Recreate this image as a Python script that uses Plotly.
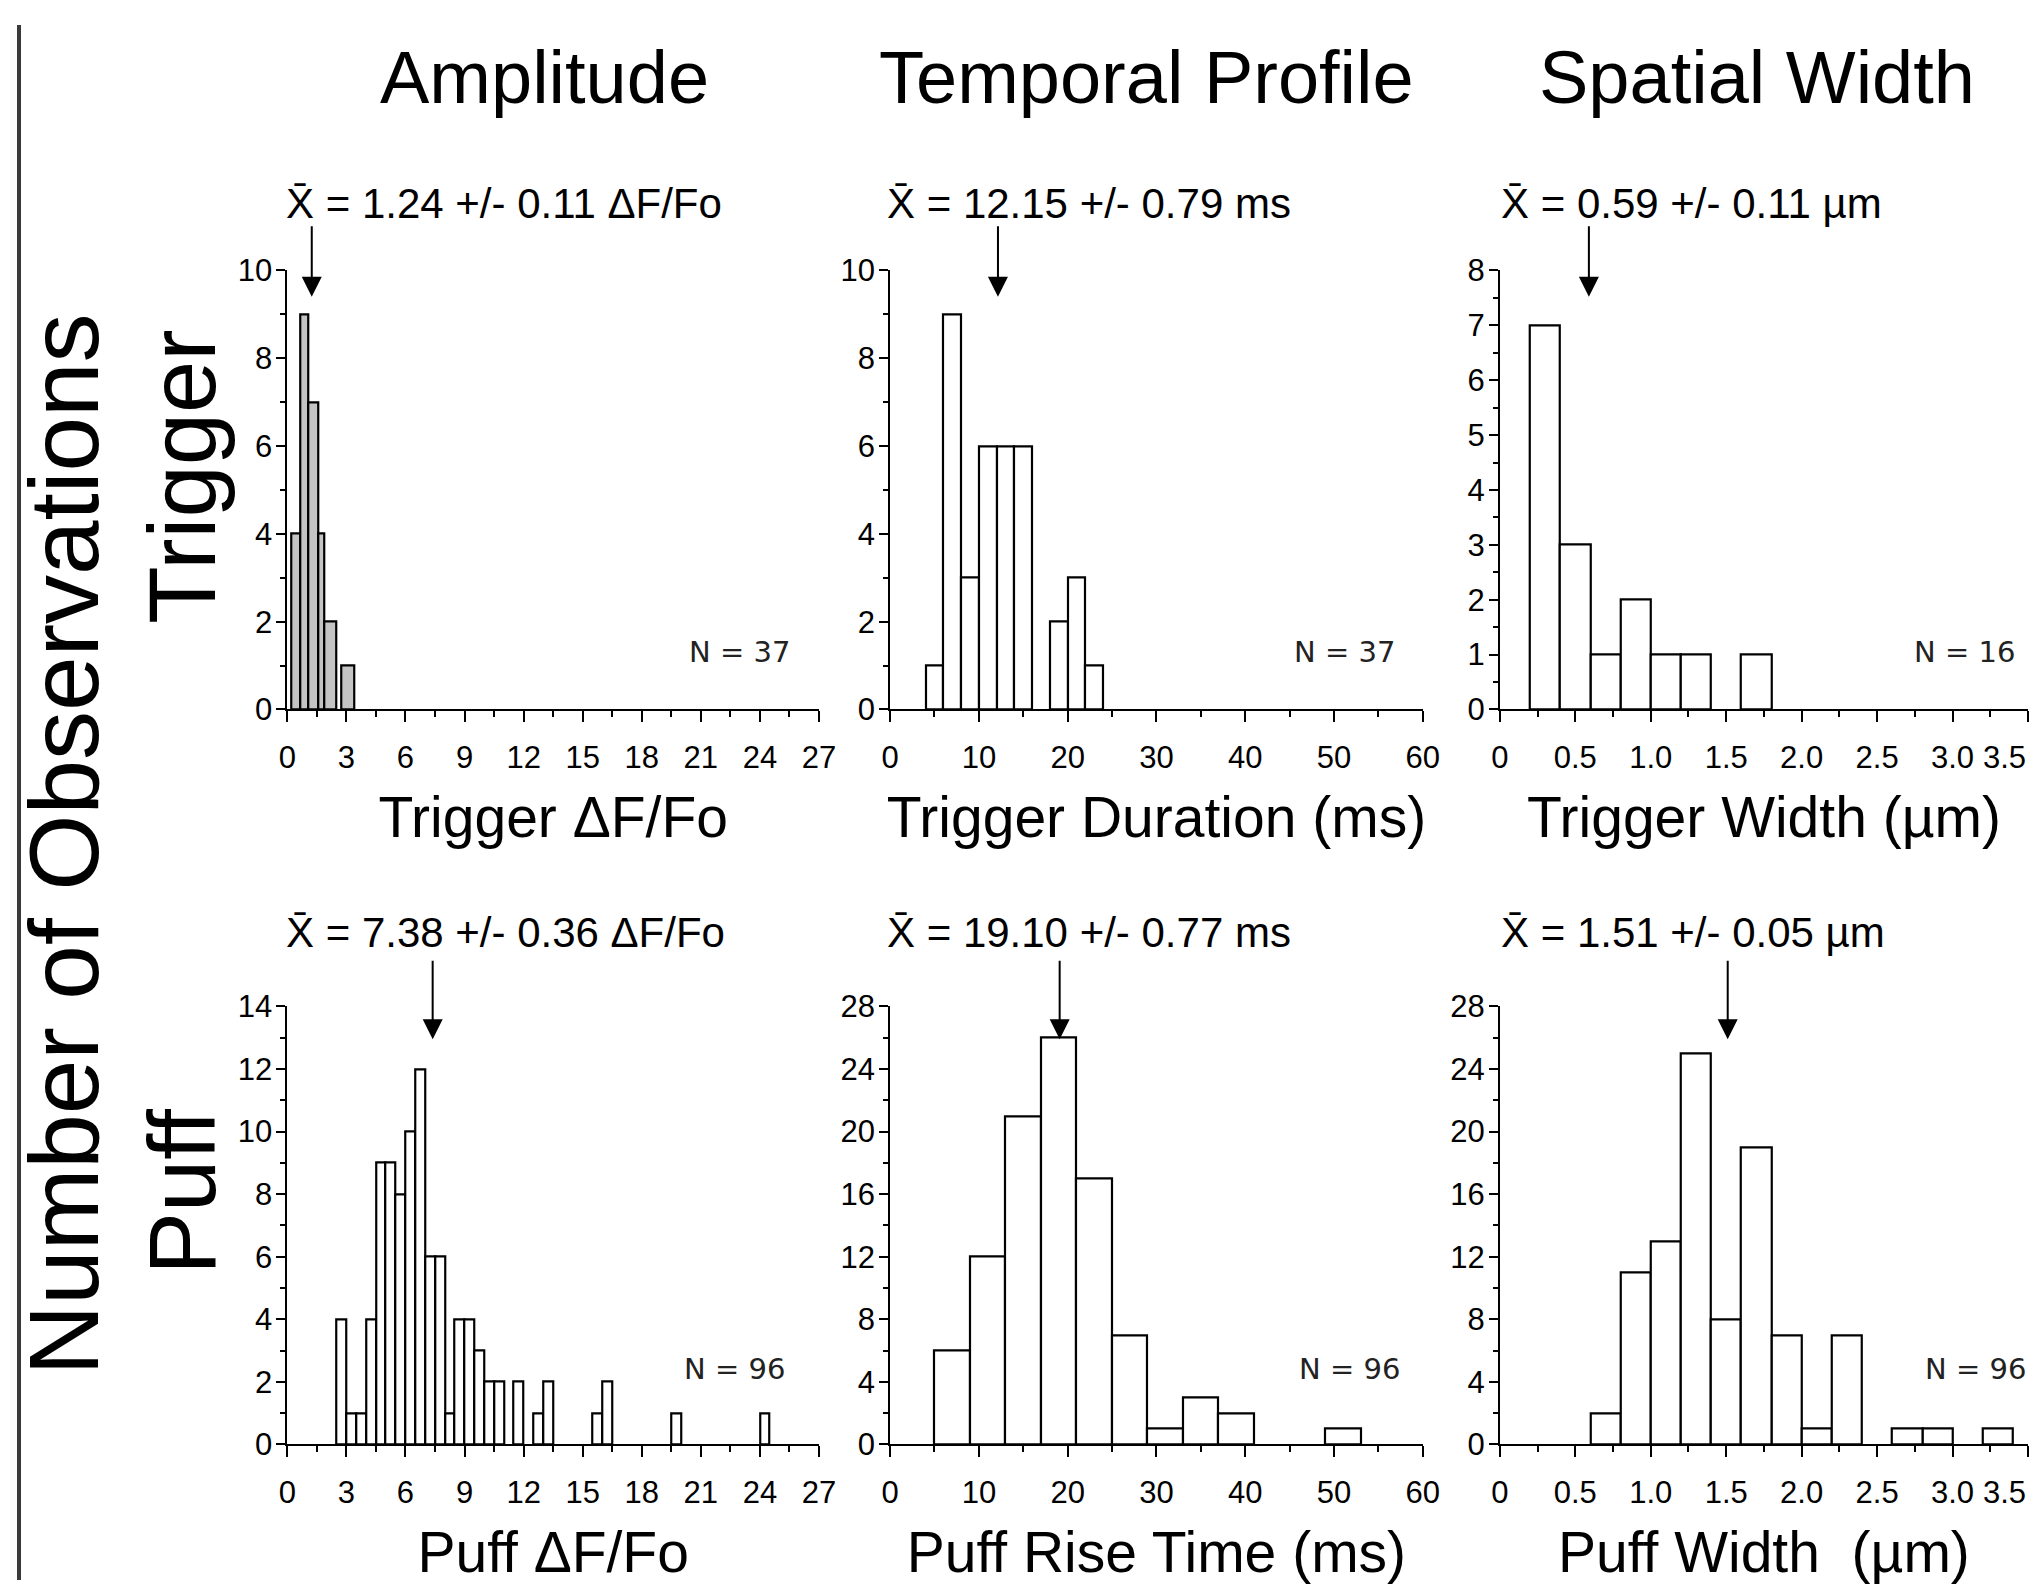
import plotly.graph_objects as go

# ---------------- data ----------------
col_titles = ["Amplitude", "Temporal Profile", "Spatial Width"]
row_titles = ["Trigger", "Puff"]
y_title = "Number of Observations"

# Trigger amplitude (irregular bins)
trig_amp_edges_left = [0.2, 0.65, 1.05, 1.55, 1.9, 2.75]
trig_amp_edges_right = [0.65, 1.05, 1.55, 1.9, 2.5, 3.4]
trig_amp_counts = [4, 9, 7, 4, 2, 1]

# Trigger duration (ms), bin width 2
trig_dur_left = [4, 6, 8, 10, 12, 14, 18, 20, 22]
trig_dur_counts = [1, 9, 3, 6, 6, 6, 2, 3, 1]
trig_dur_bw = 2

# Trigger width (um), bin width 0.2
trig_wid_left = [0.2, 0.4, 0.6, 0.8, 1.0, 1.2, 1.6]
trig_wid_counts = [7, 3, 1, 2, 1, 1, 1]
trig_wid_bw = 0.2

# Puff amplitude, bin width 0.5
puff_amp_left = [2.5, 3.0, 3.5, 4.0, 4.5, 5.0, 5.5, 6.0, 6.5, 7.0, 7.5, 8.0, 8.5,
                 9.0, 9.5, 10.0, 10.5, 11.5, 12.5, 13.0, 15.5, 16.0, 19.5, 24.0]
puff_amp_counts = [4, 1, 1, 4, 9, 9, 8, 10, 12, 6, 6, 1, 4,
                   4, 3, 2, 2, 2, 1, 2, 1, 2, 1, 1]
puff_amp_bw = 0.5

# Puff rise time (ms), bin width 4
puff_rise_left = [5, 9, 13, 17, 21, 25, 29, 33, 37, 49]
puff_rise_counts = [6, 12, 21, 26, 17, 7, 1, 3, 2, 1]
puff_rise_bw = 4

# Puff width (um), bin width 0.2
puff_wid_left = [0.6, 0.8, 1.0, 1.2, 1.4, 1.6, 1.8, 2.0, 2.2, 2.6, 2.8, 3.2]
puff_wid_counts = [2, 11, 13, 25, 8, 19, 7, 1, 7, 1, 1, 1]
puff_wid_bw = 0.2

means = [1.24, 12.15, 0.59, 7.38, 19.10, 1.51]
mean_labels = [
    "X\u0304 = 1.24 +/- 0.11 \u0394F/Fo",
    "X\u0304 = 12.15 +/- 0.79 ms",
    "X\u0304 = 0.59 +/- 0.11 \u00b5m",
    "X\u0304 = 7.38 +/- 0.36 \u0394F/Fo",
    "X\u0304 = 19.10 +/- 0.77 ms",
    "X\u0304 = 1.51 +/- 0.05 \u00b5m",
]
n_labels = ["N = 37", "N = 37", "N = 16", "N = 96", "N = 96", "N = 96"]
x_titles = ["Trigger \u0394F/Fo", "Trigger Duration (ms)", "Trigger Width (\u00b5m)",
            "Puff \u0394F/Fo", "Puff Rise Time (ms)", "Puff Width  (\u00b5m)"]

x_ranges = [[0, 27], [0, 60], [0, 3.5], [0, 27], [0, 60], [0, 3.5]]
y_ranges = [[0, 10], [0, 10], [0, 8], [0, 14], [0, 28], [0, 28]]
y_dticks = [2, 2, 1, 2, 4, 4]
x_dticks = [3, 10, 0.5, 3, 10, 0.5]
width_ticks = [0, 0.5, 1.0, 1.5, 2.0, 2.5, 3.0, 3.5]
width_ticktext = ["0", "0.5", "1.0", "1.5", "2.0", "2.5", "3.0", "3.5"]

# ---------------- layout geometry ----------------
W, H = 2037, 1590
FONT = "Liberation Sans, Arial, Helvetica, sans-serif"
FONT_WIDE = "DejaVu Sans, Verdana, sans-serif"
# calibration between figure pixels and the captured page
SX, OX, SY, OY = 0.986, 16.0, 0.978, 25.5


def px(X):
    return max(0.0, min(1.0, (X - OX) / SX / W))


def py(Y):
    return max(0.0, min(1.0, 1 - (Y - OY) / SY / H))


col_dom = [[px(286), px(817)], [px(888), px(1420)], [px(1497), px(2028)]]
row_dom = [[py(710), py(271)], [py(1445), py(1007)]]

fig = go.Figure()


def add_hist(idx, lefts, rights, counts, fill="white"):
    centers = [(a + b) / 2 for a, b in zip(lefts, rights)]
    widths = [b - a for a, b in zip(lefts, rights)]
    ax = "" if idx == 0 else str(idx + 1)
    fig.add_trace(go.Bar(
        x=centers, y=counts, width=widths,
        xaxis="x" + ax, yaxis="y" + ax,
        marker=dict(color=fill, line=dict(color="black", width=2.2)),
        showlegend=False, hoverinfo="x+y",
    ))


add_hist(0, trig_amp_edges_left, trig_amp_edges_right, trig_amp_counts, fill="#c4c4c4")
add_hist(1, trig_dur_left, [v + trig_dur_bw for v in trig_dur_left], trig_dur_counts)
add_hist(2, trig_wid_left, [v + trig_wid_bw for v in trig_wid_left], trig_wid_counts)
add_hist(3, puff_amp_left, [v + puff_amp_bw for v in puff_amp_left], puff_amp_counts)
add_hist(4, puff_rise_left, [v + puff_rise_bw for v in puff_rise_left], puff_rise_counts)
add_hist(5, puff_wid_left, [v + puff_wid_bw for v in puff_wid_left], puff_wid_counts)

layout = dict(
    width=W, height=H, autosize=False,
    margin=dict(l=0, r=0, t=0, b=0, pad=0),
    paper_bgcolor="white", plot_bgcolor="white",
    font=dict(family=FONT, color="black"),
    bargap=0,
)

annotations = []
shapes = []
mean_left = [283, 883, 1496, 283, 883, 1496]
# the last width label would sit on the page edge: it is drawn right-aligned instead
inner_ticktext = width_ticktext[:-1] + [""]
for i in range(6):
    r, c = divmod(i, 3)
    ax = "" if i == 0 else str(i + 1)
    xa = dict(
        domain=col_dom[c], range=x_ranges[i], anchor="y" + ax,
        showline=True, linecolor="black", linewidth=2,
        ticks="outside", ticklen=11, tickwidth=2, tickcolor="black",
        ticklabelstandoff=8,
        showgrid=False, zeroline=False,
        tickfont=dict(family=FONT, size=31, color="black"),
        minor=dict(ticks="outside", ticklen=6, tickwidth=2, tickcolor="black",
                   dtick=x_dticks[i] / 2, tick0=0, showgrid=False),
        title=dict(text=x_titles[i], font=dict(family=FONT, size=57, color="black"),
                   standoff=23),
        fixedrange=True,
    )
    if c == 2:
        xa["tickmode"] = "array"
        xa["tickvals"] = width_ticks
        xa["ticktext"] = inner_ticktext
        annotations.append(dict(
            text=width_ticktext[-1], x=width_ticks[-1], xref="x" + ax,
            y=0, yref="y" + ax + " domain", xanchor="right", yanchor="middle",
            yshift=-48, xshift=-1, showarrow=False, borderpad=0,
            font=dict(family=FONT, size=31, color="black"),
        ))
    else:
        xa["tickmode"] = "linear"
        xa["tick0"] = 0
        xa["dtick"] = x_dticks[i]
    ya = dict(
        domain=row_dom[r], range=y_ranges[i], anchor="x" + ax,
        showline=True, linecolor="black", linewidth=2,
        ticks="outside", ticklen=9, tickwidth=2, tickcolor="black",
        ticklabelstandoff=-2,
        tickmode="linear", tick0=0, dtick=y_dticks[i],
        showgrid=False, zeroline=False,
        tickfont=dict(family=FONT, size=31, color="black"),
        minor=dict(ticks="outside", ticklen=5, tickwidth=2, tickcolor="black",
                   dtick=y_dticks[i] / 2, tick0=0, showgrid=False),
        fixedrange=True,
    )
    layout["xaxis" + ax] = xa
    layout["yaxis" + ax] = ya

    # mean label
    annotations.append(dict(
        text=mean_labels[i], xref="paper", yref="paper",
        x=px(mean_left[i]), y=(py(204) if r == 0 else py(933)),
        xanchor="left", yanchor="middle",
        showarrow=False, font=dict(family=FONT, size=42, color="black"),
    ))
    # arrow at mean
    annotations.append(dict(
        text="", x=means[i], xref="x" + ax,
        y=(0.94 if r == 0 else 0.925), yref="y" + ax + " domain",
        showarrow=True, ax=0, ay=(-72 if r == 0 else -80),
        arrowhead=2, arrowsize=2.0, arrowwidth=2, arrowcolor="black",
    ))
    # N label
    n_right = [790, 1394, 2013, 785, 1399, 2024][i]
    n_y = [653, 653, 653, 1370, 1370, 1370][i]
    annotations.append(dict(
        text=n_labels[i], xref="paper", yref="paper",
        x=px(n_right), y=py(n_y), xanchor="right", yanchor="middle",
        showarrow=False, font=dict(family=FONT_WIDE, size=29, color="#222222"),
    ))

# column headers
for txt, xc in zip(col_titles, [543, 1144, 1754]):
    annotations.append(dict(
        text=txt, xref="paper", yref="paper", x=px(xc), y=py(78),
        xanchor="center", yanchor="middle", showarrow=False,
        font=dict(family=FONT, size=74, color="black"),
    ))

# row labels
for txt, yc in zip(row_titles, [477, 1192]):
    annotations.append(dict(
        text=txt, xref="paper", yref="paper", x=px(181), y=py(yc),
        xanchor="center", yanchor="middle", showarrow=False, textangle=-90,
        font=dict(family=FONT, size=94, color="black"),
    ))

annotations.append(dict(
    text=y_title, xref="paper", yref="paper", x=px(63), y=py(845),
    xanchor="center", yanchor="middle", showarrow=False, textangle=-90,
    font=dict(family=FONT, size=98, color="black"),
))

# dark frame edge on the left
shapes.append(dict(type="line", xref="paper", yref="paper", x0=0.001, x1=0.001,
                   y0=0, y1=1, line=dict(color="#3a3a3a", width=4)))

layout["annotations"] = annotations
layout["shapes"] = shapes
fig.update_layout(**layout)

fig.write_html("out.html", config={"displayModeBar": False})
